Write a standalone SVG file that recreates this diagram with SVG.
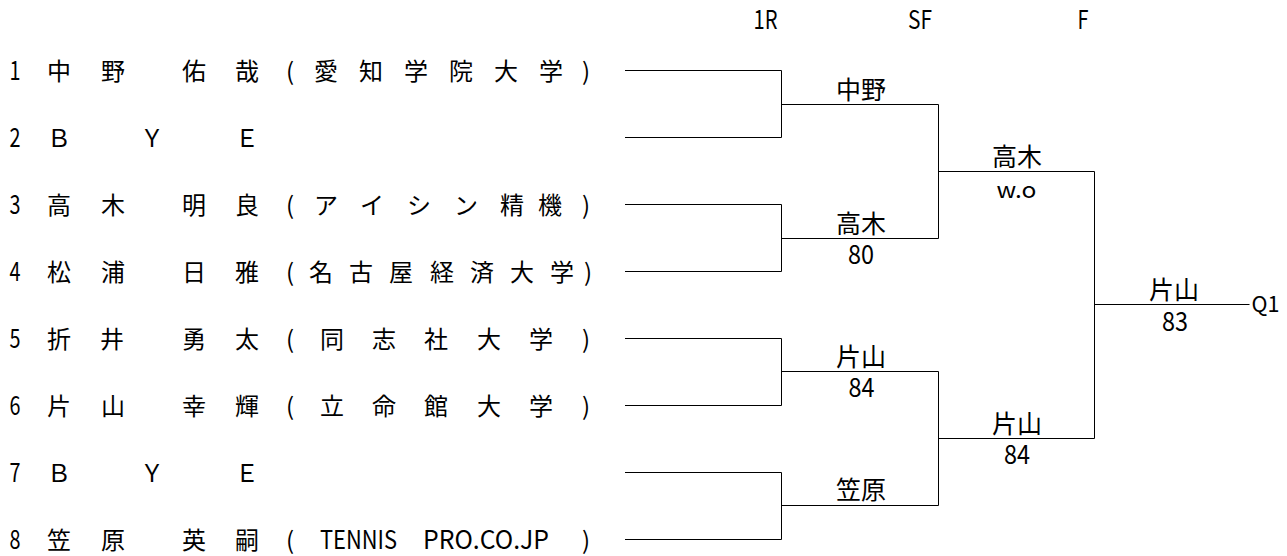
<svg xmlns="http://www.w3.org/2000/svg" width="1287" height="556" viewBox="0 0 1287 556">
<style>
text{font-family:"Noto Sans CJK JP","Noto Sans",sans-serif;fill:#000;text-anchor:middle}
.k{font-size:24px}
.r{font-size:25px}
.d{font-size:26px}
.s{text-anchor:start}
.ln{fill:none;stroke:#000;stroke-width:1}
</style>
<rect width="1287" height="556" fill="#fff"/>
<g id="header">
<text class="d" x="765.5" y="29.3" textLength="24" lengthAdjust="spacingAndGlyphs">1R</text>
<text class="d" x="920" y="29.3" textLength="24" lengthAdjust="spacingAndGlyphs">SF</text>
<text class="d" x="1083" y="29.3" textLength="11" lengthAdjust="spacingAndGlyphs">F</text>
</g>
<g id="connectors">
<path class="ln" d="M625 70.5H781.5V137.5H625"/>
<path class="ln" d="M625 204.5H781.5V271.5H625"/>
<path class="ln" d="M625 338.5H781.5V405.5H625"/>
<path class="ln" d="M625 472.5H781.5V539.5H625"/>
<path class="ln" d="M781.5 104.5H938.5V238.5H781.5"/>
<path class="ln" d="M781.5 371.5H938.5V505.5H781.5"/>
<path class="ln" d="M938.5 171.5H1094.5V438.5H938.5"/>
<path class="ln" d="M1094.5 304.5H1249.5"/>
</g>
<g id="p1">
<text class="d" x="15" y="79.5" textLength="11" lengthAdjust="spacingAndGlyphs">1</text>
<text class="k" y="79.5"><tspan x="59">中</tspan><tspan x="113">野</tspan><tspan x="194">佑</tspan><tspan x="247">哉</tspan></text>
<text class="k" y="79.5"><tspan x="290">(</tspan><tspan x="326">愛</tspan><tspan x="371">知</tspan><tspan x="416">学</tspan><tspan x="461">院</tspan><tspan x="506">大</tspan><tspan x="551">学</tspan><tspan x="586">)</tspan></text>
</g>
<g id="p2">
<text class="d" x="15" y="146.5" textLength="11" lengthAdjust="spacingAndGlyphs">2</text>
<text class="k" y="146.5"><tspan x="59">Ｂ</tspan><tspan x="152">Ｙ</tspan><tspan x="247">Ｅ</tspan></text>
</g>
<g id="p3">
<text class="d" x="15" y="213.5" textLength="11" lengthAdjust="spacingAndGlyphs">3</text>
<text class="k" y="213.5"><tspan x="59">高</tspan><tspan x="113">木</tspan><tspan x="194">明</tspan><tspan x="247">良</tspan></text>
<text class="k" y="213.5"><tspan x="290">(</tspan><tspan x="326">ア</tspan><tspan x="372">イ</tspan><tspan x="419">シ</tspan><tspan x="466">ン</tspan><tspan x="512">精</tspan><tspan x="550">機</tspan><tspan x="586">)</tspan></text>
</g>
<g id="p4">
<text class="d" x="15" y="280.5" textLength="11" lengthAdjust="spacingAndGlyphs">4</text>
<text class="k" y="280.5"><tspan x="59">松</tspan><tspan x="113">浦</tspan><tspan x="194">日</tspan><tspan x="247">雅</tspan></text>
<text class="k" y="280.5"><tspan x="290">(</tspan><tspan x="321">名</tspan><tspan x="361">古</tspan><tspan x="401">屋</tspan><tspan x="442">経</tspan><tspan x="482">済</tspan><tspan x="522">大</tspan><tspan x="562">学</tspan><tspan x="588">)</tspan></text>
</g>
<g id="p5">
<text class="d" x="15" y="347.5" textLength="11" lengthAdjust="spacingAndGlyphs">5</text>
<text class="k" y="347.5"><tspan x="59">折</tspan><tspan x="112">井</tspan><tspan x="194">勇</tspan><tspan x="247">太</tspan></text>
<text class="k" y="347.5"><tspan x="290">(</tspan><tspan x="332">同</tspan><tspan x="384">志</tspan><tspan x="436">社</tspan><tspan x="489">大</tspan><tspan x="541">学</tspan><tspan x="586">)</tspan></text>
</g>
<g id="p6">
<text class="d" x="15" y="414.5" textLength="11" lengthAdjust="spacingAndGlyphs">6</text>
<text class="k" y="414.5"><tspan x="59">片</tspan><tspan x="113">山</tspan><tspan x="194">幸</tspan><tspan x="247">輝</tspan></text>
<text class="k" y="414.5"><tspan x="290">(</tspan><tspan x="332">立</tspan><tspan x="384">命</tspan><tspan x="436">館</tspan><tspan x="489">大</tspan><tspan x="541">学</tspan><tspan x="586">)</tspan></text>
</g>
<g id="p7">
<text class="d" x="15" y="481.5" textLength="11" lengthAdjust="spacingAndGlyphs">7</text>
<text class="k" y="481.5"><tspan x="59">Ｂ</tspan><tspan x="152">Ｙ</tspan><tspan x="247">Ｅ</tspan></text>
</g>
<g id="p8">
<text class="d" x="15" y="548.5" textLength="11" lengthAdjust="spacingAndGlyphs">8</text>
<text class="k" y="548.5"><tspan x="59">笠</tspan><tspan x="113">原</tspan><tspan x="194">英</tspan><tspan x="247">嗣</tspan></text>
<text class="k" y="548.5"><tspan x="290">(</tspan><tspan x="586">)</tspan></text>
<text class="d s" x="320" y="548.5" textLength="77" lengthAdjust="spacingAndGlyphs">TENNIS</text>
<text class="d s" x="423" y="548.5" textLength="126" lengthAdjust="spacingAndGlyphs">PRO.CO.JP</text>
</g>
<g id="m1">
<text class="r" x="861" y="98.5">中野</text>
</g>
<g id="m2">
<text class="r" x="861" y="232.5">高木</text>
<text class="d" x="861" y="263.5" textLength="26" lengthAdjust="spacingAndGlyphs">80</text>
</g>
<g id="m3">
<text class="r" x="861" y="365.5">片山</text>
<text class="d" x="861.5" y="397" textLength="26" lengthAdjust="spacingAndGlyphs">84</text>
</g>
<g id="m4">
<text class="r" x="861" y="499">笠原</text>
</g>
<g id="m5">
<text class="r" x="1017" y="165.5">高木</text>
<text class="r" x="1016.5" y="197.5" textLength="40" lengthAdjust="spacingAndGlyphs" style="font-size:22px">w.o</text>
</g>
<g id="m6">
<text class="r" x="1017" y="432.5">片山</text>
<text class="d" x="1017" y="464" textLength="26" lengthAdjust="spacingAndGlyphs">84</text>
</g>
<g id="m7">
<text class="r" x="1174" y="298.5">片山</text>
<text class="d" x="1175" y="330.5" textLength="26" lengthAdjust="spacingAndGlyphs">83</text>
</g>
<g id="q1">
<text class="s" x="1251.5" y="311.5" textLength="28" lengthAdjust="spacingAndGlyphs" style="font-size:22px">Q1</text>
</g>
</svg>
